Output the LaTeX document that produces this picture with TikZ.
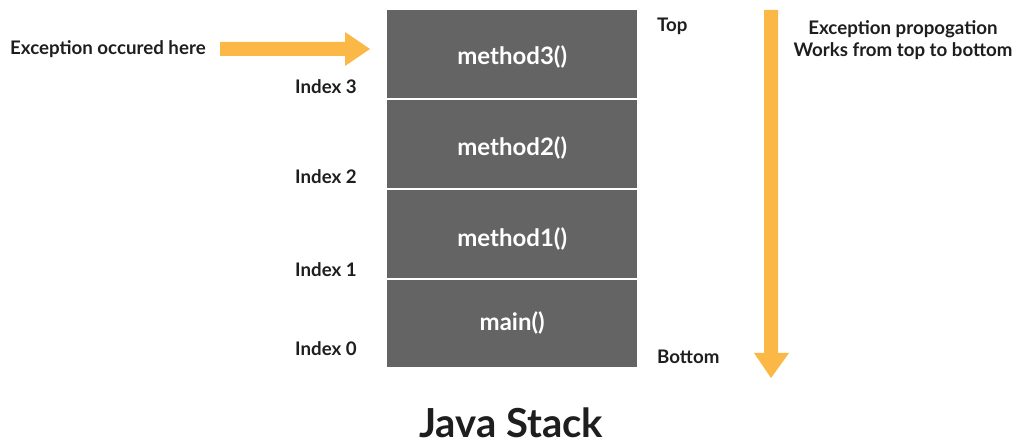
\documentclass[tikz,border=0pt]{standalone}
\usepackage{fontspec}
\setmainfont{Lato}
\definecolor{stackgray}{HTML}{646464}
\definecolor{arroworange}{HTML}{FBB846}
\definecolor{txt}{HTML}{1E1E1E}
\begin{document}
\begin{tikzpicture}[x=1pt,y=-1pt,
  frame/.style={fill=stackgray,draw=none,minimum width=250pt,anchor=north west,inner sep=0pt,text=white,font=\fontsize{24}{28}\selectfont\bfseries},
  lab/.style={text=txt,font=\fontsize{18.7}{22}\selectfont\bfseries,inner sep=0pt},
  bigarrow/.style={fill=arroworange,draw=none}]
\useasboundingbox (0,0) rectangle (1018,446);
% stack frames
\node[frame,minimum height=88pt] (m3) at (387,10) {\raisebox{-3pt}[\height][\depth]{method3()}};
\node[frame,minimum height=88pt] (m2) at (387,99.5) {\raisebox{-4pt}[\height][\depth]{method2()}};
\node[frame,minimum height=88pt] (m1) at (387,189.5) {\raisebox{-5pt}[\height][\depth]{method1()}};
\node[frame,minimum height=87pt] (m0) at (387,279.5) {main()};
% index labels
\node[lab,anchor=west] (i3) at (295,87) {Index 3};
\node[lab,anchor=west] (i2) at (295,177) {Index 2};
\node[lab,anchor=west] (i1) at (295,270) {Index 1};
\node[lab,anchor=west] (i0) at (295,349) {Index 0};
\node[lab,anchor=west] (top) at (657,26) {Top};
\node[lab,anchor=west] (bot) at (657,357) {Bottom};
% left arrow
\node[lab,anchor=west] (exc) at (10,49) {Exception occured here};
\coordinate (la) at (220,49);
\coordinate (lb) at (370,49);
\fill[bigarrow] (220,42) -- (345,42) -- (345,32) -- (lb) -- (345,66) -- (345,56) -- (220,56) -- cycle;
% right arrow
\coordinate (ra) at (771,10);
\coordinate (rb) at (771,378);
\fill[bigarrow] (764,10) -- (778,10) -- (778,353) -- (789,353) -- (rb) -- (754,353) -- (764,353) -- cycle;
\node[lab,align=center] (prop) at (903,40) {Exception propogation\\[0pt]Works from top to bottom};
% title
\node[text=txt,font=\fontsize{40}{44}\selectfont\bfseries,inner sep=0pt] (title) at (511,423) {Java Stack};
\end{tikzpicture}
\end{document}
